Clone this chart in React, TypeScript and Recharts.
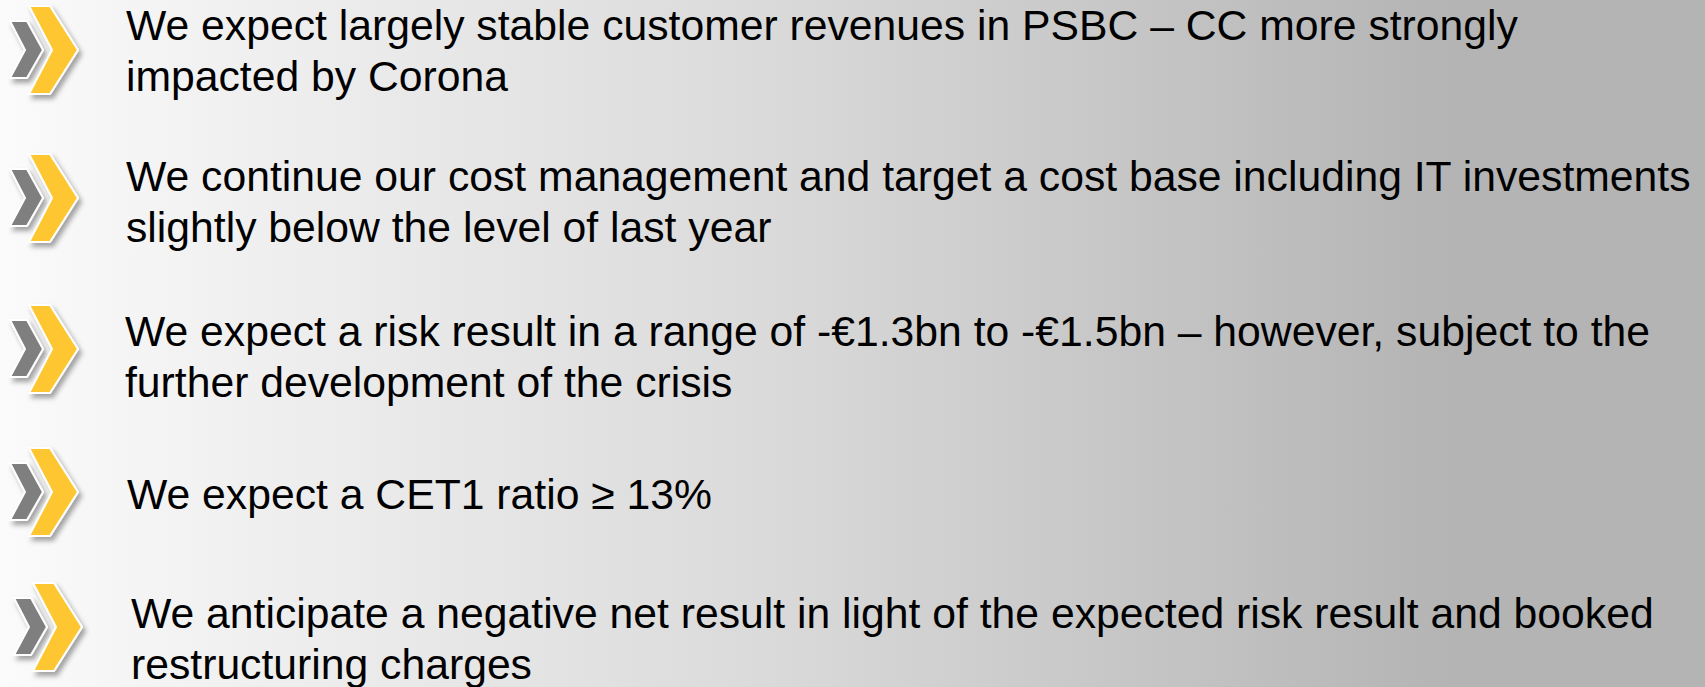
import { ScatterChart, Scatter, XAxis, YAxis } from 'recharts';

// slide coordinates (px of the 1705x687 slide)
const iconX = [29, 29, 29, 29, 33];
const iconY = [50, 198, 349, 492, 627];
const textX = [126, 126, 125, 127, 131];
const textY = [40, 191, 346, 509, 628];

const bulletLines = [
  ['We expect largely stable customer revenues in PSBC \u2013 CC more strongly', 'impacted by Corona'],
  ['We continue our cost management and target a cost base including IT investments', 'slightly below the level of last year'],
  ['We expect a risk result in a range of -\u20ac1.3bn to -\u20ac1.5bn \u2013 however, subject to the', 'further development of the crisis'],
  ['We expect a CET1 ratio \u2265 13%'],
  ['We anticipate a negative net result in light of the expected risk result and booked', 'restructuring charges'],
];

const W = 1705;
const H = 687;

const icons = iconX.map((x, i) => ({ x, y: iconY[i], id: i }));
const texts = textX.map((x, i) => ({ x, y: textY[i], lines: bulletLines[i] }));

function Chevron(props: any) {
  const { cx, cy, payload } = props;
  if (cx == null || cy == null) return null;
  const x = cx;
  const y = cy;
  const fid = `sh${payload.id}`;
  const yellow = [
    [x, y - 44],
    [x + 21, y - 44],
    [x + 49, y],
    [x + 21, y + 44],
    [x, y + 44],
    [x + 23, y],
  ];
  const gray = [
    [x - 19, y - 29],
    [x - 2, y - 29],
    [x + 14, y],
    [x - 2, y + 28],
    [x - 19, y + 28],
    [x - 4, y],
  ];
  const pts = (p: number[][]) => p.map((q) => q.join(',')).join(' ');
  return (
    <g>
      <defs>
        <filter id={fid} x="-50%" y="-50%" width="200%" height="200%">
          <feDropShadow dx="3" dy="4" stdDeviation="2.5" floodColor="#000" floodOpacity="0.35" />
        </filter>
      </defs>
      <polygon points={pts(gray)} fill="#7f7f7f" stroke="#ffffff" strokeWidth={2} filter={`url(#${fid})`} />
      <polygon points={pts(yellow)} fill="#fec731" stroke="#ffffff" strokeWidth={2} filter={`url(#${fid})`} />
    </g>
  );
}

function BulletText(props: any) {
  const { cx, cy, payload } = props;
  if (cx == null || cy == null) return null;
  return (
    <text x={cx} y={cy} fontSize={42.7} fontFamily="'Liberation Sans', Arial, sans-serif" fill="#000">
      {payload.lines.map((line: string, i: number) => (
        <tspan key={i} x={cx} dy={i === 0 ? 0 : 50.5}>
          {line}
        </tspan>
      ))}
    </text>
  );
}

export default function App() {
  return (
    <div
      style={{
        position: 'absolute',
        left: 0,
        top: 0,
        width: W,
        height: H,
        background:
          'linear-gradient(to right, #fbfbfb 0%, #f3f3f3 10%, #dadada 45%, #b4b4b4 85%, #b4b4b4 100%)',
      }}
    >
      <ScatterChart width={W} height={H} margin={{ top: 0, right: 0, bottom: 0, left: 0 }}>
        <XAxis type="number" dataKey="x" domain={[0, W]} hide />
        <YAxis type="number" dataKey="y" domain={[0, H]} reversed hide />
        <Scatter data={icons} shape={<Chevron />} isAnimationActive={false} />
        <Scatter data={texts} shape={<BulletText />} isAnimationActive={false} />
      </ScatterChart>
    </div>
  );
}
